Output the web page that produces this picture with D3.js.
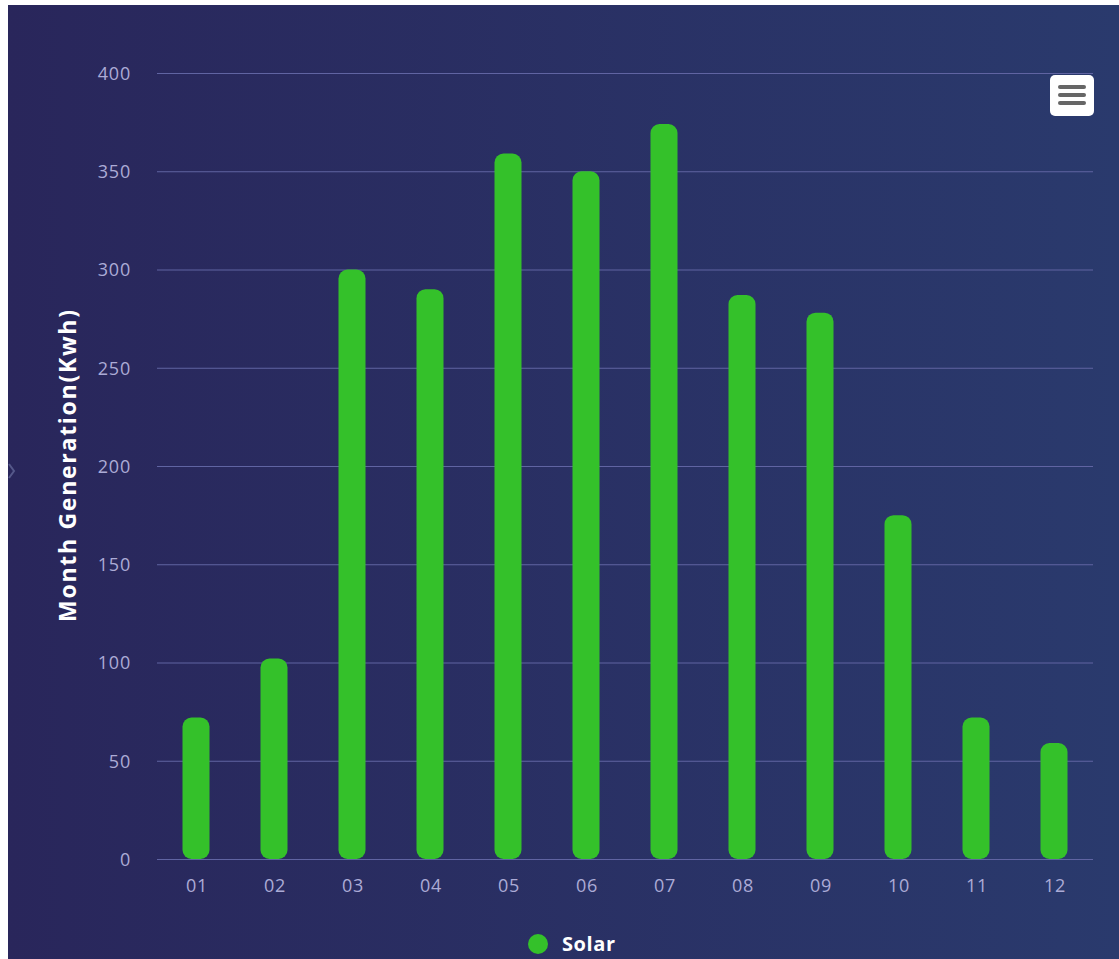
<!DOCTYPE html>
<html>
<head>
<meta charset="utf-8">
<script src="https://cdn.jsdelivr.net/npm/d3@7"></script>
<style>
  html, body { margin: 0; padding: 0; background: #ffffff; }
  svg { display: block; }
</style>
</head>
<body>
<svg id="chart" width="1119" height="959"></svg>
<script>
// Monthly solar generation
const months = ["01","02","03","04","05","06","07","08","09","10","11","12"];
const solarValues = [72, 102, 300, 290, 359, 350, 374, 287, 278, 175, 72, 59];
const yTicks = [0, 50, 100, 150, 200, 250, 300, 350, 400];
const seriesName = "Solar";
const yTitle = "Month Generation(Kwh)";

const W = 1119, H = 959;
const svg = d3.select("#chart");

// Panel background with a horizontal gradient
const defs = svg.append("defs");
const grad = defs.append("linearGradient").attr("id", "bg")
  .attr("x1", "0%").attr("y1", "0%").attr("x2", "100%").attr("y2", "0%");
grad.append("stop").attr("offset", "0%").attr("stop-color", "#29265b");
grad.append("stop").attr("offset", "100%").attr("stop-color", "#2a3a6d");
svg.append("rect").attr("x", 8).attr("y", 5).attr("width", W - 8).attr("height", H - 5)
  .attr("fill", "url(#bg)");

const plot = { left: 157, right: 1093, top: 73, bottom: 859 };

const x = d3.scaleBand().domain(months).range([plot.left, plot.right]).paddingInner(0).paddingOuter(0);
const y = d3.scaleLinear().domain([0, 400]).range([plot.bottom, plot.top]);

// Horizontal grid lines
svg.append("g").selectAll("line").data(yTicks).join("line")
  .attr("x1", plot.left).attr("x2", plot.right)
  .attr("y1", d => y(d) + 0.5).attr("y2", d => y(d) + 0.5)
  .attr("stroke", "#6064a2").attr("stroke-width", 1.2);

const labelFont = "'Open Sans', sans-serif";

// Y axis tick labels
const yAxis = d3.axisLeft(y).tickValues(yTicks).tickSize(0).tickPadding(0);
const gy = svg.append("g").attr("transform", `translate(${plot.left - 26},0)`).call(yAxis);
gy.select(".domain").remove();
gy.selectAll("text")
  .attr("fill", "#acabd6").attr("font-family", labelFont).attr("font-size", 18)
  .attr("letter-spacing", 0.8)
  .attr("dy", "0.35em");

// X axis tick labels
const xAxis = d3.axisBottom(x).tickSize(0).tickPadding(0);
const gx = svg.append("g").attr("transform", `translate(1,${plot.bottom + 27})`).call(xAxis);
gx.select(".domain").remove();
gx.selectAll("text")
  .attr("fill", "#acabd6").attr("font-family", labelFont).attr("font-size", 18)
  .attr("letter-spacing", 0.8)
  .attr("dy", "0.35em");

// Bars with rounded ends
const barW = 27;
svg.append("g").selectAll("rect").data(solarValues).join("rect")
  .attr("x", (d, i) => x(months[i]) + x.bandwidth() / 2 - barW / 2)
  .attr("y", d => y(d))
  .attr("width", barW)
  .attr("height", d => y(0) - y(d))
  .attr("rx", 9).attr("ry", 9)
  .attr("fill", "#34c12a");

// Y axis title
svg.append("text")
  .attr("transform", `translate(76,466) rotate(-90)`)
  .attr("text-anchor", "middle")
  .attr("fill", "#ffffff").attr("font-family", labelFont)
  .attr("font-size", 23).attr("font-weight", "bold")
  .attr("textLength", 312).attr("lengthAdjust", "spacing")
  .text(yTitle);

// Legend
const legend = svg.append("g").attr("transform", "translate(538,944)");
legend.append("circle").attr("r", 10).attr("fill", "#34c12a");
legend.append("text").attr("x", 24).attr("dy", "0.35em")
  .attr("fill", "#ffffff").attr("font-family", labelFont)
  .attr("font-size", 20).attr("font-weight", "bold")
  .attr("textLength", 53).attr("lengthAdjust", "spacing")
  .text(seriesName);

// Export menu button
const menu = svg.append("g").attr("transform", "translate(1050,75)");
menu.append("rect").attr("width", 44).attr("height", 41).attr("rx", 5).attr("fill", "#ffffff");
[12, 20, 28].forEach(yy => {
  menu.append("line").attr("x1", 10).attr("x2", 34).attr("y1", yy).attr("y2", yy)
    .attr("stroke", "#666666").attr("stroke-width", 4).attr("stroke-linecap", "round");
});

// Side collapse arrow
svg.append("path").attr("d", "M9,464 L14,471 L9,478")
  .attr("fill", "none").attr("stroke", "#55588a").attr("stroke-width", 2);
</script>
</body>
</html>
